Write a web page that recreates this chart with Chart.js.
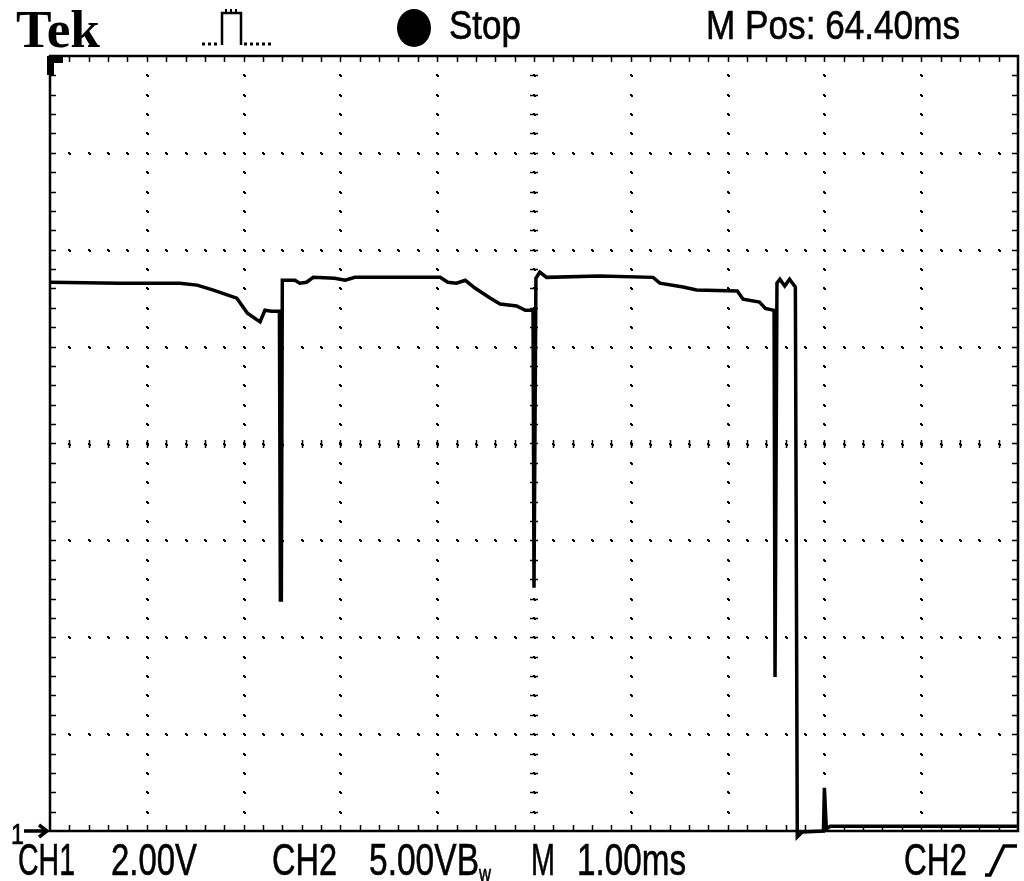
<!DOCTYPE html>
<html>
<head>
<meta charset="utf-8">
<script src="https://cdn.jsdelivr.net/npm/chart.js@4/dist/chart.umd.min.js"></script>
<style>
  html, body { margin: 0; padding: 0; background: #fff; }
  #wrap { position: relative; width: 1024px; height: 881px; overflow: hidden; }
  #c { position: absolute; left: 0; top: 0; }
  #ov { position: absolute; left: 0; top: 0; pointer-events: none; }
  .sans { font-family: "Liberation Sans", "DejaVu Sans", sans-serif; stroke: #000; stroke-width: 0.6px; }
  .serif { font-family: "Liberation Serif", "DejaVu Serif", serif; font-weight: bold; }
</style>
</head>
<body>
<div id="wrap">
  <canvas id="c" width="1024" height="881"></canvas>
  <svg id="ov" width="1024" height="881" xmlns="http://www.w3.org/2000/svg">
    <!-- header -->
    <text class="serif" x="16" y="47" font-size="52" textLength="84" lengthAdjust="spacingAndGlyphs">Tek</text>
    <path d="M202,44 L220,44 M244,44 L272,44" stroke="#000" stroke-width="3" fill="none" stroke-dasharray="3 3"/>
    <path d="M222,45 L222,13 L241,13 L241,45" stroke="#000" stroke-width="2.5" fill="none"/>
    <path d="M226,13 L226,9 M231,13 L231,9 M236,13 L236,9" stroke="#000" stroke-width="2" fill="none"/>
    <ellipse cx="414" cy="28" rx="17" ry="19" fill="#000"/>
    <text class="sans" x="449" y="39" font-size="40" textLength="72" lengthAdjust="spacingAndGlyphs">Stop</text>
    <text class="sans" x="706" y="39" font-size="40" textLength="254" lengthAdjust="spacingAndGlyphs">M Pos: 64.40ms</text>
    <!-- trigger position marker -->
    <path d="M47,56 L63,56 L63,63 L54,63 L54,75 L47,75 Z" fill="#000"/>
    <!-- channel 1 ground marker -->
    <text class="sans" x="11" y="844" font-size="30" textLength="13" lengthAdjust="spacingAndGlyphs">1</text>
    <path d="M24,831 L47,831 M39,825 L47,831 L39,837" stroke="#000" stroke-width="3.5" fill="none"/>
    <!-- footer -->
    <text class="sans" x="18" y="875" font-size="44" textLength="57" lengthAdjust="spacingAndGlyphs">CH1</text>
    <text class="sans" x="111" y="875" font-size="44" textLength="86" lengthAdjust="spacingAndGlyphs">2.00V</text>
    <text class="sans" x="272" y="875" font-size="44" textLength="65" lengthAdjust="spacingAndGlyphs">CH2</text>
    <text class="sans" x="369" y="875" font-size="44" textLength="110" lengthAdjust="spacingAndGlyphs">5.00VB</text>
    <text class="sans" x="479" y="881" font-size="22" textLength="12" lengthAdjust="spacingAndGlyphs">w</text>
    <text class="sans" x="531" y="875" font-size="44" textLength="24" lengthAdjust="spacingAndGlyphs">M</text>
    <text class="sans" x="577" y="875" font-size="44" textLength="109" lengthAdjust="spacingAndGlyphs">1.00ms</text>
    <text class="sans" x="904" y="875" font-size="44" textLength="63" lengthAdjust="spacingAndGlyphs">CH2</text>
    <path d="M985,875 L990,875 L1004,846 L1017,846" stroke="#000" stroke-width="3.5" fill="none"/>
  </svg>
</div>
<script>
// ---- data (time in ms, CH volts at 2.00 V/div) ----
const timeMs = [
  0.00, 0.72, 1.34, 1.52, 1.68, 1.93, 2.04, 2.17, 2.22, 2.29, 2.37, 2.38, 2.39, 2.40,
  2.53, 2.58, 2.65, 2.72, 2.94, 3.05, 3.15, 4.03, 4.11, 4.20, 4.29, 4.39, 4.55, 4.65,
  4.82, 4.91, 4.99, 5.00, 5.02, 5.06, 5.13, 5.68, 6.23, 6.30, 6.54, 6.68, 7.10, 7.16,
  7.33, 7.39, 7.48, 7.49, 7.51, 7.54, 7.59, 7.64, 7.70, 7.72, 7.77, 7.99, 8.00, 8.02,
  8.06, 10.00
];
const traceVolts = [
  11.33, 11.31, 11.31, 11.27, 11.17, 11.00, 10.69, 10.51, 10.75, 10.73, 10.73, 4.77, 4.77, 11.37,
  11.37, 11.31, 11.33, 11.43, 11.41, 11.37, 11.43, 11.43, 11.33, 11.31, 11.37, 11.21, 11.00, 10.88,
  10.84, 10.75, 10.75, 5.02, 11.41, 11.54, 11.43, 11.46, 11.43, 11.31, 11.23, 11.17, 11.15, 10.98,
  10.92, 10.79, 10.75, 3.18, 11.31, 11.39, 11.25, 11.39, 11.23, -0.12, -0.02, 0.00, 0.89, 0.04,
  0.10, 0.10
];
const timeDivisions = [0, 10];      // 10 divisions x 1.00 ms
const voltDivisions = [0, 16];      // 8 divisions x 2.00 V
const majorStepMs = 1.0, minorStepMs = 0.2;
const majorStepV = 2.0, minorStepV = 0.4;

const points = timeMs.map((t, i) => ({ x: t, y: traceVolts[i] }));

const graticule = {
  id: 'graticule',
  beforeDatasetsDraw(chart) {
    const { ctx, chartArea: a, scales: { x, y } } = chart;
    ctx.save();
    ctx.fillStyle = '#000';
    ctx.strokeStyle = '#000';
    const eps = 1e-6;
    // dotted major grid lines
    for (let t = timeDivisions[0] + majorStepMs; t < timeDivisions[1] - eps; t += majorStepMs) {
      const px = Math.round(x.getPixelForValue(t));
      for (let v = voltDivisions[0] + minorStepV; v < voltDivisions[1] - eps; v += minorStepV) {
        const py = Math.round(y.getPixelForValue(v));
        ctx.fillRect(px - 1, py - 1, 2, 2);
        ctx.fillRect(px, py, 2, 2);
      }
    }
    for (let v = voltDivisions[0] + majorStepV; v < voltDivisions[1] - eps; v += majorStepV) {
      const py = Math.round(y.getPixelForValue(v));
      for (let t = timeDivisions[0] + minorStepMs; t < timeDivisions[1] - eps; t += minorStepMs) {
        const px = Math.round(x.getPixelForValue(t));
        ctx.fillRect(px - 1, py - 1, 2, 2);
        ctx.fillRect(px, py, 2, 2);
      }
    }
    // centre cross ticks
    const cx = Math.round(x.getPixelForValue((timeDivisions[0] + timeDivisions[1]) / 2));
    const cy = Math.round(y.getPixelForValue((voltDivisions[0] + voltDivisions[1]) / 2));
    ctx.lineWidth = 1.5;
    ctx.beginPath();
    for (let v = voltDivisions[0] + minorStepV; v < voltDivisions[1] - eps; v += minorStepV) {
      const py = Math.round(y.getPixelForValue(v)) + 0.5;
      ctx.moveTo(cx - 4, py); ctx.lineTo(cx + 4, py);
    }
    for (let t = timeDivisions[0] + minorStepMs; t < timeDivisions[1] - eps; t += minorStepMs) {
      const px = Math.round(x.getPixelForValue(t)) + 0.5;
      ctx.moveTo(px, cy - 4); ctx.lineTo(px, cy + 4);
    }
    ctx.stroke();
    // frame with minor ticks
    ctx.lineWidth = 2.5;
    ctx.strokeRect(a.left, a.top, a.right - a.left, a.bottom - a.top);
    ctx.lineWidth = 1.5;
    ctx.beginPath();
    for (let t = timeDivisions[0] + minorStepMs; t < timeDivisions[1] - eps; t += minorStepMs) {
      const px = Math.round(x.getPixelForValue(t)) + 0.5;
      ctx.moveTo(px, a.top); ctx.lineTo(px, a.top + 6);
      ctx.moveTo(px, a.bottom); ctx.lineTo(px, a.bottom - 6);
    }
    for (let v = voltDivisions[0] + minorStepV; v < voltDivisions[1] - eps; v += minorStepV) {
      const py = Math.round(y.getPixelForValue(v)) + 0.5;
      ctx.moveTo(a.left, py); ctx.lineTo(a.left + 6, py);
      ctx.moveTo(a.right, py); ctx.lineTo(a.right - 6, py);
    }
    ctx.stroke();
    ctx.restore();
  }
};

new Chart(document.getElementById('c'), {
  type: 'scatter',
  data: {
    datasets: [{
      label: 'CH1',
      data: points,
      showLine: true,
      borderColor: '#000',
      backgroundColor: '#000',
      borderWidth: 3.5,
      pointRadius: 0,
      tension: 0,
      clip: false
    }]
  },
  options: {
    responsive: false,
    animation: false,
    devicePixelRatio: 1,
    events: [],
    layout: { padding: { left: 50, top: 56, right: 6, bottom: 50 } },
    scales: {
      x: { type: 'linear', min: timeDivisions[0], max: timeDivisions[1], display: false },
      y: { type: 'linear', min: voltDivisions[0], max: voltDivisions[1], display: false }
    },
    plugins: { legend: { display: false }, tooltip: { enabled: false } }
  },
  plugins: [graticule]
});
</script>
</body>
</html>
